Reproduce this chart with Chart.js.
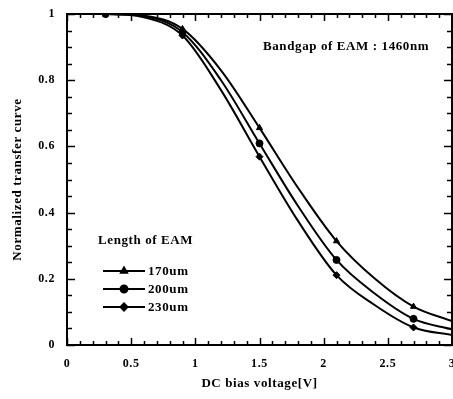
<!DOCTYPE html>
<html>
<head>
<meta charset="utf-8">
<script src="https://cdn.jsdelivr.net/npm/chart.js@4/dist/chart.umd.min.js"></script>
<style>
  html, body { margin: 0; padding: 0; background: #fff; }
  #wrap { width: 453px; height: 399px; }
</style>
</head>
<body>
<div id="wrap"><canvas id="eamChart" width="453" height="399"></canvas></div>
<script>
// bias voltage (V) where the curves were read
const biasV = [0, 0.3, 0.6, 0.9, 1.2, 1.5, 1.8, 2.1, 2.4, 2.7, 3.0];
// voltages that carry a marker
const markedV = [0.3, 0.9, 1.5, 2.1, 2.7];

const len170 = [1.0, 1.0, 0.995, 0.955, 0.83, 0.656, 0.475, 0.314, 0.20, 0.116, 0.072];
const len200 = [1.0, 1.0, 0.993, 0.945, 0.80, 0.609, 0.42, 0.257, 0.155, 0.079, 0.047];
const len230 = [1.0, 1.0, 0.990, 0.935, 0.77, 0.569, 0.375, 0.211, 0.12, 0.053, 0.030];

const seriesNames = ['170um', '200um', '230um'];
const seriesMarks = ['triangle', 'circle', 'rectRot'];

const xTickLabels = ['0', '0.5', '1', '1.5', '2', '2.5', '3'];
const yTickLabels = ['0', '0.2', '0.4', '0.6', '0.8', '1'];

const FONT = '"Liberation Serif", "DejaVu Serif", serif';

function pts(vals) {
  return biasV.map((v, i) => ({x: v, y: vals[i]}));
}

function makeSet(vals, idx) {
  return {
    label: seriesNames[idx],
    data: pts(vals),
    showLine: true,
    borderColor: '#000',
    backgroundColor: '#000',
    borderWidth: 2,
    cubicInterpolationMode: 'monotone',
    pointStyle: seriesMarks[idx],
    pointRadius: biasV.map(v => markedV.includes(v) ? 3.5 : 0),
    pointBorderWidth: 1
  };
}

// the scanned figure has wide-set bold lettering
const spacing = {
  id: 'spacing',
  beforeInit(chart) { chart.ctx.letterSpacing = '0.6px'; },
  beforeDraw(chart) { chart.ctx.letterSpacing = '0.6px'; }
};

// frame, inward ticks, legend and note
const decor = {
  id: 'decor',
  afterDraw(chart) {
    const ctx = chart.ctx;
    const a = chart.chartArea;
    const xs = chart.scales.x, ys = chart.scales.y;
    ctx.save();
    ctx.strokeStyle = '#000';
    ctx.lineWidth = 2;
    ctx.strokeRect(a.left, a.top, a.right - a.left, a.bottom - a.top);
    ctx.lineWidth = 1.5;
    ctx.beginPath();
    for (let i = 0; i <= 30; i++) {
      const px = Math.round(xs.getPixelForValue(i / 10)) + 0.5;
      const len = i % 5 === 0 ? 7 : 4;
      ctx.moveTo(px, a.bottom); ctx.lineTo(px, a.bottom - len);
      ctx.moveTo(px, a.top); ctx.lineTo(px, a.top + len);
    }
    for (let i = 0; i <= 20; i++) {
      const py = Math.round(ys.getPixelForValue(i / 20)) + 0.5;
      const len = i % 4 === 0 ? 8 : 5;
      ctx.moveTo(a.left, py); ctx.lineTo(a.left + len, py);
      ctx.moveTo(a.right, py); ctx.lineTo(a.right - len, py);
    }
    ctx.stroke();

    ctx.fillStyle = '#000';
    ctx.textBaseline = 'middle';
    ctx.font = 'bold 13px ' + FONT;
    ctx.textAlign = 'left';
    ctx.fillText('Bandgap of EAM : 1460nm', 263, 47);
    ctx.fillText('Length of EAM', 98, 241);

    const rows = [271, 289, 307];
    chart.data.datasets.forEach((ds, i) => {
      const y = rows[i];
      ctx.lineWidth = 2;
      ctx.beginPath();
      ctx.moveTo(103, y); ctx.lineTo(145, y);
      ctx.stroke();
      Chart.helpers.drawPoint(ctx, {pointStyle: ds.pointStyle, radius: 3.5, rotation: 0, borderWidth: 1}, 124, y);
      ctx.fill();
      ctx.fillText(ds.label, 148, y + 1);
    });
    ctx.restore();
  }
};

new Chart(document.getElementById('eamChart'), {
  type: 'scatter',
  data: {datasets: [makeSet(len170, 0), makeSet(len200, 1), makeSet(len230, 2)]},
  options: {
    responsive: false,
    animation: false,
    layout: {padding: {top: 14, right: 1, left: 0, bottom: 0}},
    plugins: {legend: {display: false}, tooltip: {enabled: false}},
    scales: {
      x: {
        type: 'linear', min: 0, max: 3,
        grid: {display: false, drawTicks: false},
        border: {display: false},
        afterFit: s => { s.height = 54; s.paddingLeft = 0; s.paddingRight = 0; },
        afterBuildTicks: s => { s.ticks = xTickLabels.map(t => ({value: parseFloat(t)})); },
        ticks: {
          padding: 12, color: '#000', maxRotation: 0, autoSkip: false,
          font: {family: FONT, size: 12, weight: 'bold'},
          callback: (v, i) => xTickLabels[i]
        },
        title: {
          display: true, text: 'DC bias voltage[V]', color: '#000',
          font: {family: FONT, size: 13, weight: 'bold'}, padding: {top: 0, bottom: 8}
        }
      },
      y: {
        type: 'linear', min: 0, max: 1,
        grid: {display: false, drawTicks: false},
        border: {display: false},
        afterFit: s => { s.width = 67; s.paddingTop = 0; s.paddingBottom = 0; },
        afterBuildTicks: s => { s.ticks = yTickLabels.map(t => ({value: parseFloat(t)})); },
        ticks: {
          padding: 12, color: '#000',
          font: {family: FONT, size: 12, weight: 'bold'},
          callback: (v, i) => yTickLabels[i]
        },
        title: {
          display: true, text: 'Normalized transfer curve', color: '#000',
          font: {family: FONT, size: 13, weight: 'bold'}, padding: {top: 10, bottom: 0}
        }
      }
    }
  },
  plugins: [spacing, decor]
});
</script>
</body>
</html>
